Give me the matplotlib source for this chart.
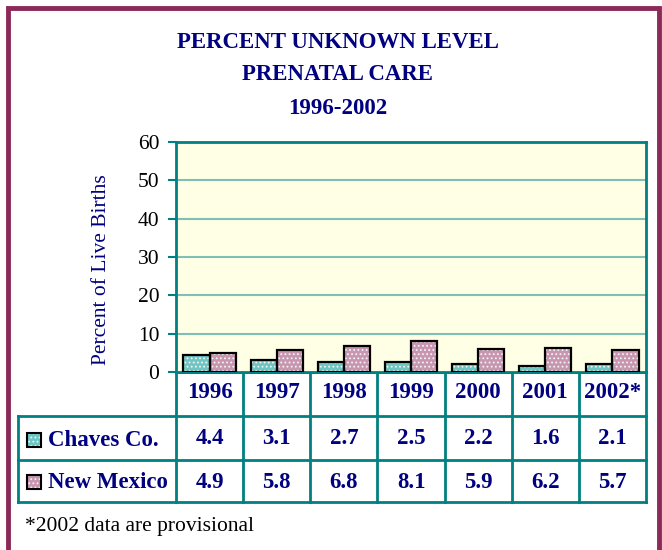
import matplotlib
matplotlib.use("Agg")
import matplotlib.pyplot as plt
from matplotlib.patches import Rectangle

years = ["1996", "1997", "1998", "1999", "2000", "2001", "2002*"]
chaves = [4.4, 3.1, 2.7, 2.5, 2.2, 1.6, 2.1]
new_mexico = [4.9, 5.8, 6.8, 8.1, 5.9, 6.2, 5.7]
series_names = ["Chaves Co.", "New Mexico"]
title_lines = ["PERCENT UNKNOWN LEVEL", "PRENATAL CARE", "1996-2002"]
y_ticks = [0, 10, 20, 30, 40, 50, 60]

W, H = 662, 550
NAVY = "#000080"
TEAL = "#008080"
GRID = "#7FBFB4"
MAROON = "#8B2A5A"
C_TEAL = "#6EC6C4"
C_PINK = "#C896B0"
SERIF = "Liberation Serif"

plt.rcParams["hatch.linewidth"] = 0.8

fig = plt.figure(figsize=(W / 100, H / 100), dpi=100)

# overlay in pixel coords
ov = fig.add_axes([0, 0, 1, 1])
ov.set_xlim(0, W)
ov.set_ylim(H, 0)
ov.axis("off")

# frame
ov.plot([8, 8, 659, 659], [H + 5, 8, 8, H + 5], color=MAROON, lw=3.5, solid_joinstyle="miter", zorder=1)

# title
for t, y in zip(title_lines, [42, 75, 108]):
    ov.text(338, y, t, ha="center", va="center", fontsize=16.5, fontweight="bold",
            color=NAVY, family=SERIF)

# plot area
L, R, T, B = 176, 646, 142, 372
ax = fig.add_axes([L / W, 1 - B / H, (R - L) / W, (B - T) / H])
ax.set_facecolor("#FFFFE6")
n = len(years)
xs = list(range(n))
bw = 0.39
for vals, col, off in [(chaves, C_TEAL, -bw / 2), (new_mexico, C_PINK, bw / 2)]:
    xpos = [x + off for x in xs]
    ax.bar(xpos, vals, width=bw, color=col, edgecolor="#F4F4F4", linewidth=0, hatch="....", zorder=3)
    ax.bar(xpos, vals, width=bw, fill=False, edgecolor="black", linewidth=1.6, zorder=4)
ax.set_xlim(-0.5, n - 0.5)
ax.set_ylim(0, 60)
ax.set_yticks(y_ticks)
ax.set_yticklabels([str(v) for v in y_ticks], fontsize=15.5, family=SERIF)
ax.set_xticks([])
for v in y_ticks[1:-1]:
    ax.axhline(v, color=GRID, lw=1.5, zorder=1)
for s in ["left", "top", "right", "bottom"]:
    ax.spines[s].set_color(TEAL)
    ax.spines[s].set_linewidth(2)
ax.tick_params(axis="y", length=6, width=1.5, color=TEAL, pad=6)

ov.text(101, 270, "Percent of Live Births", rotation=90, ha="center", va="center",
        fontsize=15.5, color=NAVY, family=SERIF)

# table
colw = (R - L) / n
tl = dict(color=TEAL, lw=2, solid_capstyle="projecting")
ov.plot([L, R], [B, B], **tl)
ov.plot([18, R], [416, 416], **tl)
ov.plot([18, R], [460, 460], **tl)
ov.plot([18, R], [502, 502], **tl)
ov.plot([18, 18], [416, 502], **tl)
for i in range(n + 1):
    x = L + i * colw
    ov.plot([x, x], [B, 502], **tl)

for i, yl in enumerate(years):
    cx = L + (i + 0.5) * colw
    ov.text(cx, 393, yl, ha="center", va="center", fontsize=16.5, fontweight="bold",
            color=NAVY, family=SERIF)
    ov.text(cx, 439, f"{chaves[i]:.1f}", ha="center", va="center", fontsize=16.5,
            fontweight="bold", color=NAVY, family=SERIF)
    ov.text(cx, 482, f"{new_mexico[i]:.1f}", ha="center", va="center", fontsize=16.5,
            fontweight="bold", color=NAVY, family=SERIF)

for name, col, yc in [(series_names[0], C_TEAL, 440), (series_names[1], C_PINK, 482)]:
    ov.add_patch(Rectangle((27, yc - 7), 14, 14, facecolor=col, edgecolor="#F4F4F4", lw=0, hatch="....", zorder=3))
    ov.add_patch(Rectangle((27, yc - 7), 14, 14, fill=False, edgecolor="black", lw=1.5, zorder=4))
    ov.text(48, yc + 1, name, ha="left", va="center", fontsize=16.5, fontweight="bold",
            color=NAVY, family=SERIF)

ov.text(25, 527, "*2002 data are provisional", ha="left", va="center", fontsize=15.5,
        color="black", family=SERIF)

fig.savefig("out.png", dpi=100)
